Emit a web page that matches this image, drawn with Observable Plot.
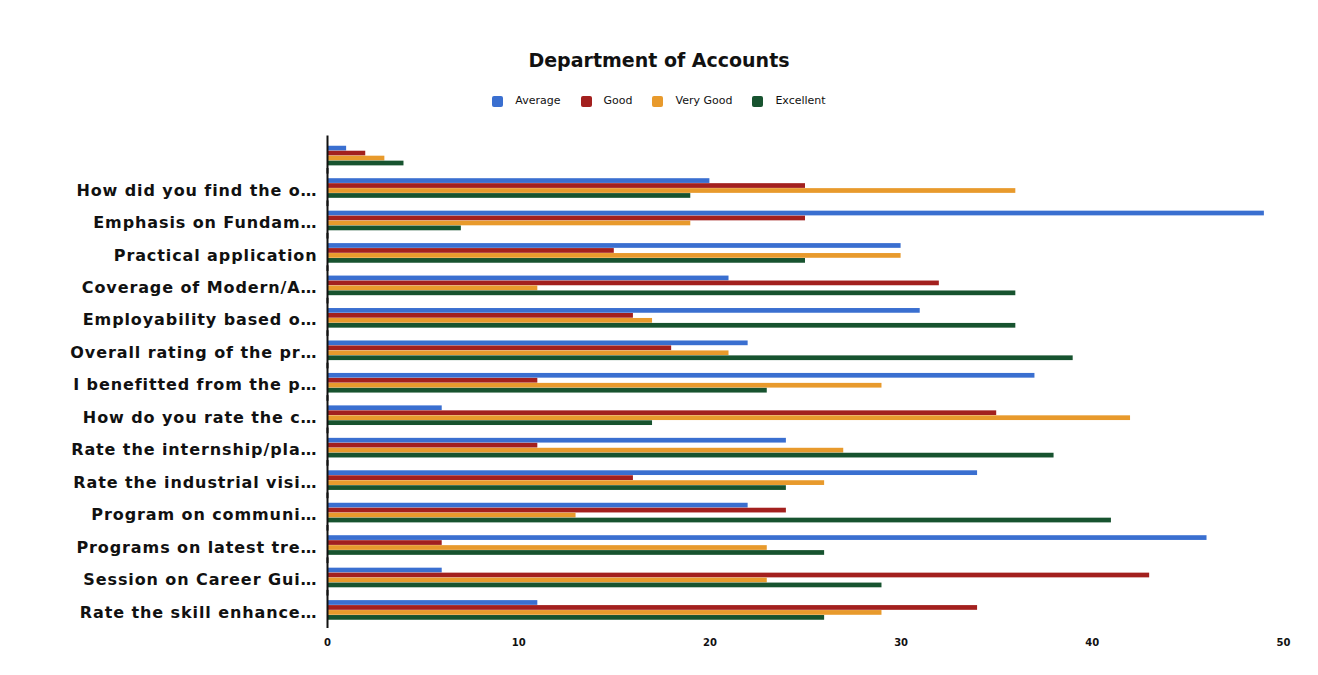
<!DOCTYPE html>
<html>
<head>
<meta charset="utf-8">
<script src="https://cdn.jsdelivr.net/npm/d3@7"></script>
<script src="https://cdn.jsdelivr.net/npm/@observablehq/plot@0.6"></script>
<style>
  html, body { margin: 0; padding: 0; background: #fff; }
  body { width: 1318px; height: 675px; position: relative; overflow: hidden; font-family: "DejaVu Sans", "Liberation Sans", Arial, sans-serif; }
  #title { position: absolute; top: 48px; left: 0; width: 1318px; text-align: center; font-size: 19px; line-height: 24px; font-weight: bold; color: #111; }
  #legend { position: absolute; top: 94px; left: 0; width: 1318px; display: flex; justify-content: center; gap: 20px; font-size: 11px; line-height: 14px; color: #111; }
  #legend .item { display: flex; align-items: center; gap: 12px; }
  #legend .sw { width: 11px; height: 11px; border-radius: 2px; display: inline-block; }
  #ylabel { position: absolute; left: 46px; top: 410px; transform: translate(-50%, -50%) rotate(-90deg); font-size: 9px; color: #111; white-space: nowrap; }
  #chart { position: absolute; top: 120px; left: 0; }
</style>
</head>
<body>
<div id="title"></div>
<div id="legend"></div>
<div id="ylabel"></div>
<div id="chart"></div>
<script>
const titleText = "Department of Accounts";
const axisLabel = "Questions";
const questions = [
  "",
  "How did you find the o…",
  "Emphasis on Fundam…",
  "Practical application",
  "Coverage of Modern/A…",
  "Employability based o…",
  "Overall rating of the pr…",
  "I benefitted from the p…",
  "How do you rate the c…",
  "Rate the internship/pla…",
  "Rate the industrial visi…",
  "Program on communi…",
  "Programs on latest tre…",
  "Session on Career Gui…",
  "Rate the skill enhance…"
];
const series = ["Average", "Good", "Very Good", "Excellent"];
const colors = ["#3a6fd0", "#a3201e", "#e89a2c", "#17532f"];
const average   = [1, 20, 49, 30, 21, 31, 22, 37, 6, 24, 34, 22, 46, 6, 11];
const good      = [2, 25, 25, 15, 32, 16, 18, 11, 35, 11, 16, 24, 6, 43, 34];
const veryGood  = [3, 36, 19, 30, 11, 17, 21, 29, 42, 27, 26, 13, 23, 23, 29];
const excellent = [4, 19, 7, 25, 36, 36, 39, 23, 17, 38, 24, 41, 26, 29, 26];
const xTicks = [0, 10, 20, 30, 40, 50];

const seriesValues = [average, good, veryGood, excellent];
const data = [];
questions.forEach((q, i) => {
  series.forEach((s, j) => data.push({question: q, series: s, value: seriesValues[j][i]}));
});

document.getElementById("title").textContent = titleText;
document.getElementById("ylabel").textContent = axisLabel;
const legend = document.getElementById("legend");
series.forEach((s, j) => {
  const it = document.createElement("div");
  it.className = "item";
  const sw = document.createElement("span");
  sw.className = "sw";
  sw.style.background = colors[j];
  const t = document.createElement("span");
  t.textContent = s;
  it.appendChild(sw); it.appendChild(t);
  legend.appendChild(it);
});

const chart = Plot.plot({
  width: 1318,
  height: 555,
  marginLeft: 327,
  marginRight: 35,
  marginTop: 25.5,
  marginBottom: 55,
  style: {fontFamily: "'DejaVu Sans', 'Liberation Sans', Arial, sans-serif", color: "#111", background: "#fff"},
  x: {domain: [0, 50]},
  y: {domain: series, padding: 0.05, axis: null, round: false},
  fy: {domain: questions, paddingInner: 0.38, paddingOuter: 0, round: false},
  color: {domain: series, range: colors},
  marks: [
    Plot.barX(data, {x: "value", y: "series", fy: "question", fill: "series"}),
    Plot.ruleX([0], {stroke: "#111", strokeWidth: 2, insetTop: -10, insetBottom: -8}),
    Plot.axisX({ticks: xTicks, tickSize: 0, tickPadding: 18, fontSize: 10, fontWeight: "bold", label: null}),
    Plot.axisFy({anchor: "left", tickSize: 0, tickPadding: 10, dy: 2, fontSize: 16, fontWeight: "bold", label: null})
  ]
});
chart.querySelectorAll("g[aria-label='fy-axis tick label'] text").forEach(t => t.style.letterSpacing = "0.9px");
document.getElementById("chart").appendChild(chart);
</script>
</body>
</html>
